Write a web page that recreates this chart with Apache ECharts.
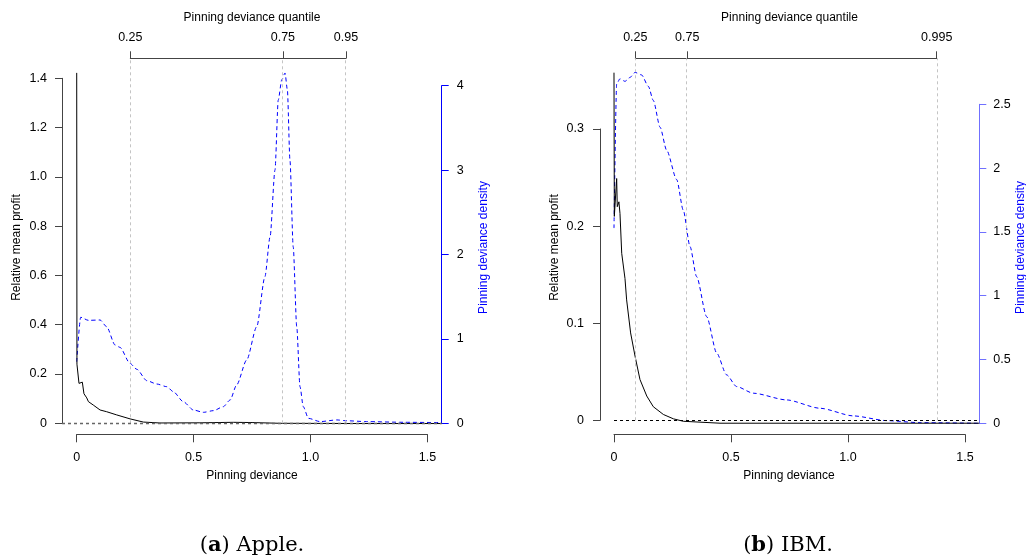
<!DOCTYPE html>
<html><head><meta charset="utf-8">
<script src="https://cdn.jsdelivr.net/npm/echarts@6/dist/echarts.min.js"></script>
<style>html,body{margin:0;padding:0;background:#fff}#c{width:1026px;height:560px}</style>
</head><body><div id="c"></div>
<script>
// ---------- DATA ----------
// (a) Apple
const appleDev    = [0, 0.001, 0.0098, 0.018, 0.024, 0.031, 0.037, 0.043, 0.05, 0.071, 0.1, 0.128, 0.171, 0.228, 0.285, 0.356, 0.527, 0.67, 0.75, 0.87, 1.2, 1.561];
const appleProfit = [1.422, 0.24, 0.162, 0.157, 0.167, 0.12, 0.113, 0.103, 0.088, 0.074, 0.054, 0.047, 0.034, 0.018, 0.005, 0.0013, 0.002, 0.004, 0.003, 0, -0.001, -0.001];
const appleDensDev = [0, 0.017, 0.05, 0.1, 0.128, 0.164, 0.185, 0.228, 0.257, 0.3, 0.342, 0.385, 0.413, 0.456, 0.499, 0.542, 0.585, 0.627, 0.656, 0.684, 0.727, 0.77, 0.805, 0.827, 0.848, 0.862, 0.877, 0.891, 0.901, 0.912, 0.926, 0.941, 0.955, 0.969, 0.991, 1.041, 1.112, 1.155, 1.24, 1.4, 1.561];
const appleDens    = [0.73, 1.256, 1.22, 1.224, 1.145, 0.928, 0.9, 0.71, 0.64, 0.505, 0.466, 0.434, 0.375, 0.256, 0.158, 0.13, 0.15, 0.197, 0.276, 0.454, 0.75, 1.145, 1.737, 2.21, 3.0, 3.83, 4.07, 4.15, 3.95, 3.12, 2.09, 1.145, 0.434, 0.197, 0.059, 0.02, 0.04, 0.03, 0.02, 0.012, 0.008];
const appleQuantilePos    = [0.229, 0.882, 1.152];
const appleQuantileLabels = ['0.25', '0.75', '0.95'];

// (b) IBM
const ibmDev    = [0, 0.0014, 0.0114, 0.014, 0.021, 0.0256, 0.033, 0.047, 0.054, 0.071, 0.09, 0.111, 0.14, 0.168, 0.211, 0.254, 0.296, 0.453, 1.0, 1.561];
const ibmProfit = [0.358, 0.21, 0.249, 0.22, 0.225, 0.213, 0.172, 0.146, 0.124, 0.09, 0.066, 0.042, 0.025, 0.014, 0.006, 0.0015, -0.001, -0.003, -0.003, -0.003];
const ibmDensDev = [0, 0.0114, 0.0256, 0.047, 0.068, 0.09, 0.118, 0.147, 0.168, 0.197, 0.225, 0.268, 0.296, 0.325, 0.353, 0.396, 0.439, 0.481, 0.524, 0.595, 0.738, 0.88, 1.023, 1.165, 1.308, 1.561];
const ibmDens    = [1.53, 2.66, 2.7, 2.68, 2.71, 2.75, 2.73, 2.64, 2.53, 2.32, 2.14, 1.91, 1.67, 1.385, 1.15, 0.836, 0.55, 0.38, 0.288, 0.236, 0.183, 0.118, 0.058, 0.021, 0.005, 0];
const ibmQuantilePos    = [0.091, 0.313, 1.379];
const ibmQuantileLabels = ['0.25', '0.75', '0.995'];

// ---------- CHART ----------
const FONT = 'Liberation Sans';
const zip = (xs, ys) => xs.map((x, i) => [x, ys[i]]);
const chart = echarts.init(document.getElementById('c'), null, { renderer: 'canvas' });

const grids = [
  { left: 62,    top: 78.3,  width: 379.7, height: 345 },   // 0 apple profit
  { left: 62,    top: 85.7,  width: 379.7, height: 337.6 }, // 1 apple density
  { left: 76.7,  top: 300,   width: 350.7, height: 134.3 }, // 2 apple bottom axis
  { left: 130.3, top: 58.3,  width: 215.7, height: 365 },   // 3 apple top axis
  { left: 600,   top: 129,   width: 379.3, height: 291.3 }, // 4 ibm profit
  { left: 600,   top: 104.3, width: 379.3, height: 319 },   // 5 ibm density
  { left: 614,   top: 300,   width: 351,   height: 134.3 }, // 6 ibm bottom axis
  { left: 635.3, top: 58.3,  width: 301.4, height: 362 },   // 7 ibm top axis
  { left: 62,    top: 58.3,  width: 379.7, height: 365 },   // 8 apple quantile guides
  { left: 600,   top: 58.3,  width: 379.3, height: 362 }    // 9 ibm quantile guides
].map(g => Object.assign({ containLabel: false, outerBoundsMode: 'none' }, g));

const AX = '#444';
const lbl = (margin, fmt) => ({ show: true, margin, color: '#000', fontSize: 12.5, fontFamily: FONT, formatter: fmt });
const hiddenX = (gi, min, max) => ({ type: 'value', gridIndex: gi, min, max, show: false });
const hiddenY = (gi) => ({ type: 'value', gridIndex: gi, min: 0, max: 1, show: false });
const oneDec = v => (v === 0 ? '0' : v.toFixed(1));
const bottomX = (gi) => ({
  type: 'value', gridIndex: gi, min: 0, max: 1.5, interval: 0.5, position: 'bottom',
  axisLine: { show: true, onZero: false, lineStyle: { color: AX, width: 1 } },
  axisTick: { show: true, length: 8, lineStyle: { color: AX } },
  axisLabel: lbl(17, oneDec), splitLine: { show: false }
});
const topX = (gi, pos, labels) => ({
  type: 'value', gridIndex: gi, min: pos[0], max: pos[pos.length - 1], position: 'top',
  axisLine: { show: true, onZero: false, lineStyle: { color: AX, width: 1 } },
  axisTick: { show: true, length: 7, customValues: pos, lineStyle: { color: AX } },
  axisLabel: Object.assign(lbl(14, v => {
    let bi = 0, bd = Infinity;
    pos.forEach((p, i) => { const d = Math.abs(p - v); if (d < bd) { bd = d; bi = i; } });
    return labels[bi];
  }), { customValues: pos }),
  splitLine: { show: false }
});
const yAx = (gi, min, max, interval, position, color, margin, fmt) => ({
  type: 'value', gridIndex: gi, min, max, interval, position,
  axisLine: { show: true, onZero: false, lineStyle: { color, width: 1 } },
  axisTick: { show: true, length: 7, lineStyle: { color } },
  axisLabel: lbl(margin, fmt), splitLine: { show: false }
});

const xAxis = [
  hiddenX(0, -0.0629, 1.561), hiddenX(1, -0.0629, 1.561), bottomX(2), topX(3, appleQuantilePos, appleQuantileLabels),
  hiddenX(4, -0.0598, 1.561), hiddenX(5, -0.0598, 1.561), bottomX(6), topX(7, ibmQuantilePos, ibmQuantileLabels),
  hiddenX(8, -0.0629, 1.561), hiddenX(9, -0.0598, 1.561)
];
const yAxis = [
  yAx(0, 0, 1.4, 0.2, 'left', AX, 15, oneDec),
  yAx(1, 0, 4, 1, 'right', '#0000ff', 15, v => String(v)),
  hiddenY(2), hiddenY(3),
  yAx(4, 0, 0.3, 0.1, 'left', AX, 16, oneDec),
  yAx(5, 0, 2.5, 0.5, 'right', '#7070ff', 14, v => String(v)),
  hiddenY(6), hiddenY(7), hiddenY(8), hiddenY(9)
];

const ml = (data, color, type, width) => ({
  symbol: ['none', 'none'], silent: true, animation: false, label: { show: false },
  emphasis: { disabled: true },
  lineStyle: { color, type, width }, data
});
const profitSeries = (xi, yi, data, markData, zcolor, zwidth) => ({
  type: 'line', xAxisIndex: xi, yAxisIndex: yi, data, symbol: 'none', clip: false,
  lineStyle: { color: '#000', width: 1 }, z: 4,
  markLine: ml(markData, zcolor, [3, 3], zwidth)
});
const densSeries = (xi, yi, data) => ({
  type: 'line', xAxisIndex: xi, yAxisIndex: yi, data, symbol: 'none', clip: false,
  smooth: 0.25, smoothMonotone: 'x',
  lineStyle: { color: '#0000ff', width: 1, type: [4, 3] }, z: 3
});
const qSeries = (xi, yi, pos) => ({
  type: 'line', xAxisIndex: xi, yAxisIndex: yi, data: [], symbol: 'none', z: 1,
  markLine: ml(pos.map(v => ({ xAxis: v })), '#c4c4c4', [3, 3], 1)
});

const series = [
  qSeries(8, 8, appleQuantilePos),
  densSeries(1, 1, zip(appleDensDev, appleDens)),
  profitSeries(0, 0, zip(appleDev, appleProfit), [{ yAxis: 0 }], '#666', 1.3),
  qSeries(9, 9, ibmQuantilePos),
  densSeries(5, 5, zip(ibmDensDev, ibmDens)),
  profitSeries(4, 4, zip(ibmDev, ibmProfit), [[{ coord: [0, 0] }, { coord: [1.561, 0] }]], '#000', 1)
];

const txt = (x, y, text, opts) => Object.assign({
  type: 'text', x, y, silent: true,
  style: Object.assign({ text, fill: '#000', font: '12px "Liberation Sans"', textAlign: 'center', textVerticalAlign: 'middle', verticalAlign: 'middle' }, (opts && opts.style) || {})
}, opts && opts.rotation ? { rotation: opts.rotation } : {});

const capRich = {
  n: { fontFamily: 'DejaVu Serif', fontSize: 21, fill: '#000' },
  b: { fontFamily: 'DejaVu Serif', fontSize: 21, fontWeight: 'bold', fill: '#000' }
};
const caption = (x, y, letter, name) => ({
  type: 'text', x, y, silent: true,
  style: { text: '{n|(}{b|' + letter + '}{n|) ' + name + '}', rich: capRich, textAlign: 'center', textVerticalAlign: 'middle', verticalAlign: 'middle' }
});

const graphic = [
  txt(252, 18, 'Pinning deviance quantile'),
  txt(789.5, 18, 'Pinning deviance quantile'),
  txt(252, 476, 'Pinning deviance'),
  txt(789, 476, 'Pinning deviance'),
  txt(17, 247.5, 'Relative mean profit', { rotation: Math.PI / 2 }),
  txt(554.7, 247.5, 'Relative mean profit', { rotation: Math.PI / 2 }),
  txt(483.8, 247.5, 'Pinning deviance density', { rotation: Math.PI / 2, style: { fill: '#0000ff' } }),
  txt(1020.5, 247.5, 'Pinning deviance density', { rotation: Math.PI / 2, style: { fill: '#0000ff' } }),
  caption(252, 546, 'a', 'Apple.'),
  caption(788, 546, 'b', 'IBM.')
];

chart.setOption({
  animation: false,
  backgroundColor: '#fff',
  grid: grids, xAxis, yAxis, series, graphic
});
</script></body></html>
